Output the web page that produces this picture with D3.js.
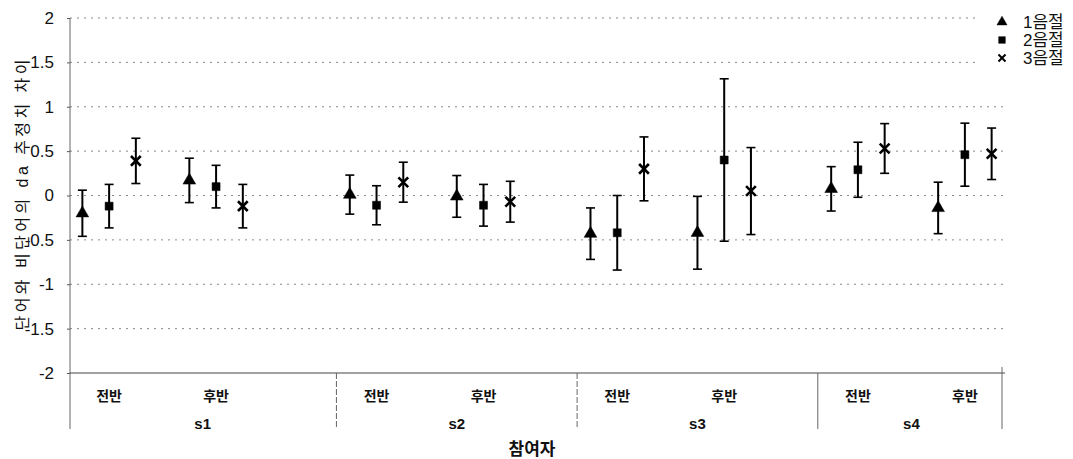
<!DOCTYPE html>
<html>
<head>
<meta charset="utf-8">
<script src="https://cdn.jsdelivr.net/npm/d3@7"></script>
<style>
  body { margin: 0; background: #fff; }
  svg { display: block; font-family: "Liberation Sans", Arial, "Noto Sans CJK KR", sans-serif; }
</style>
</head>
<body>
<div id="chart"></div>
<script>
// categories
const participants = ['s1', 's2', 's3', 's4'];
const halves = ['전반', '후반'];
const seriesNames = ['1음절', '2음절', '3음절'];
const yTicks = [-2, -1.5, -1, -0.5, 0, 0.5, 1, 1.5, 2];

// values in order s1전반, s1후반, s2전반, s2후반, s3전반, s3후반, s4전반, s4후반
const mean1 = [-0.2, 0.17, 0.01, -0.01, -0.43, -0.42, 0.075, -0.14];
const err1  = [0.26, 0.25, 0.22, 0.235, 0.29, 0.41, 0.25, 0.29];
const mean2 = [-0.12, 0.1, -0.11, -0.11, -0.42, 0.4, 0.29, 0.46];
const err2  = [0.245, 0.24, 0.22, 0.235, 0.42, 0.915, 0.31, 0.355];
const mean3 = [0.39, -0.12, 0.15, -0.07, 0.3, 0.05, 0.53, 0.47];
const err3  = [0.255, 0.245, 0.225, 0.23, 0.36, 0.49, 0.28, 0.29];

const means = [mean1, mean2, mean3];
const errs = [err1, err2, err3];

// empty category slots after each participant (layout of the source axis)
const tailGaps = [3, 2, 2, 0];

const width = 1073, height = 459;
const plot = { left: 69, right: 1005, top: 18, bottom: 373 };

const svg = d3.select('#chart').append('svg')
    .attr('width', width)
    .attr('height', height);

// slot keys for the band scale
const slots = [];
participants.forEach((p, pi) => {
    halves.forEach((h, hi) => {
        seriesNames.forEach(s => slots.push(`${p}|${h}|${s}`));
        if (hi < halves.length - 1) slots.push(`${p}|gap${hi}`);
    });
    for (let g = 0; g < tailGaps[pi]; g++) slots.push(`${p}|tail${g}`);
});

const x = d3.scaleBand().domain(slots).range([plot.left, plot.right]);
const bw = x.bandwidth();
const y = d3.scaleLinear().domain([-2, 2]).range([plot.bottom, plot.top]);

// grid
svg.append('g')
    .selectAll('line')
    .data(yTicks.filter(d => d > -2))
    .join('line')
    .attr('x1', plot.left + 1).attr('x2', plot.right)
    .attr('y1', d => y(d)).attr('y2', d => y(d))
    .attr('stroke', '#888')
    .attr('stroke-width', 1)
    .attr('stroke-dasharray', '2,5');

// y axis
const yAxis = svg.append('g')
    .attr('transform', `translate(${plot.left + 1},0)`)
    .call(d3.axisLeft(y).tickValues(yTicks).tickSize(3).tickPadding(13)
        .tickFormat(d => String(d)));
yAxis.select('.domain').remove();
yAxis.selectAll('.tick line').attr('stroke', '#555');
yAxis.selectAll('.tick text')
    .attr('font-size', 17)
    .attr('fill', '#111');

// axis frame lines
svg.append('line')
    .attr('x1', plot.left + 1).attr('x2', plot.left + 1)
    .attr('y1', plot.top).attr('y2', 429)
    .attr('stroke', '#666');
svg.append('line')
    .attr('x1', plot.left + 1).attr('x2', plot.right)
    .attr('y1', plot.bottom).attr('y2', plot.bottom)
    .attr('stroke', '#444');

// participant separators and labels
participants.forEach((p, pi) => {
    const keys = slots.filter(k => k.startsWith(p + '|'));
    const x0 = x(keys[0]);
    const x1 = x(keys[keys.length - 1]) + bw;
    if (pi > 0) {
        svg.append('line')
            .attr('x1', x0).attr('x2', x0)
            .attr('y1', plot.bottom).attr('y2', 429)
            .attr('stroke', '#666')
            .attr('stroke-dasharray', pi === 3 ? null : '6,2');
    }
    if (pi === participants.length - 1) {
        svg.append('line')
            .attr('x1', x1 - 3).attr('x2', x1 - 3)
            .attr('y1', plot.bottom - 6).attr('y2', 429)
            .attr('stroke', '#666');
    }
    svg.append('text')
        .attr('x', (x0 + x1) / 2)
        .attr('y', 429)
        .attr('text-anchor', 'middle')
        .attr('font-size', 15)
        .attr('font-weight', 'bold')
        .attr('fill', '#111')
        .text(p);
    halves.forEach(h => {
        const cx = x(`${p}|${h}|${seriesNames[1]}`) + bw / 2;
        svg.append('text')
            .attr('x', cx)
            .attr('y', 401)
            .attr('text-anchor', 'middle')
            .attr('font-size', 14)
            .attr('font-weight', 'bold')
            .attr('fill', '#111')
            .text(h);
    });
});

// axis titles
svg.append('text')
    .attr('x', 532)
    .attr('y', 455)
    .attr('text-anchor', 'middle')
    .attr('font-size', 17)
    .attr('font-weight', 'bold')
    .attr('fill', '#111')
    .text('참여자');

svg.append('text')
    .attr('transform', 'translate(28,195) rotate(-90)')
    .attr('text-anchor', 'middle')
    .attr('font-size', 16)
    .attr('fill', '#111')
    .attr('textLength', 271)
    .attr('lengthAdjust', 'spacing')
    .text('단어와 비단어의 da 추정치 차이');

// points
const points = [];
participants.forEach((p, pi) => {
    halves.forEach((h, hi) => {
        seriesNames.forEach((s, si) => {
            const i = pi * halves.length + hi;
            points.push({ key: `${p}|${h}|${s}`, series: si, mean: means[si][i], err: errs[si][i] });
        });
    });
});

const xShape = d3.symbolTimes || d3.symbolX;
const shapes = [d3.symbolTriangle, d3.symbolSquare, xShape];
const sizes = [70, 64, 64];

const pt = svg.append('g').selectAll('g')
    .data(points)
    .join('g')
    .attr('transform', d => `translate(${x(d.key) + bw / 2},0)`);

pt.append('line')
    .attr('y1', d => y(d.mean + d.err))
    .attr('y2', d => y(d.mean - d.err))
    .attr('stroke', '#000')
    .attr('stroke-width', 2);

pt.selectAll('.cap')
    .data(d => [d.mean + d.err, d.mean - d.err])
    .join('line')
    .attr('class', 'cap')
    .attr('x1', -4.5).attr('x2', 4.5)
    .attr('y1', v => y(v)).attr('y2', v => y(v))
    .attr('stroke', '#000')
    .attr('stroke-width', 1.6);

pt.append('path')
    .attr('transform', d => `translate(0,${y(d.mean)})`)
    .attr('d', d => d3.symbol(shapes[d.series], sizes[d.series])())
    .attr('fill', d => d.series === 2 ? 'none' : '#000')
    .attr('stroke', '#000')
    .attr('stroke-width', d => d.series === 2 ? 2.6 : 0.5);

// legend
const legend = svg.append('g');
legend.append('rect')
    .attr('x', 980).attr('y', 4)
    .attr('width', 93).attr('height', 68)
    .attr('fill', '#fff');
seriesNames.forEach((s, si) => {
    const ly = 22 + si * 18;
    legend.append('path')
        .attr('transform', `translate(1002,${ly})`)
        .attr('d', d3.symbol(shapes[si], si === 2 ? 34 : 44)())
        .attr('fill', si === 2 ? 'none' : '#000')
        .attr('stroke', '#000')
        .attr('stroke-width', si === 2 ? 2 : 0.5);
    legend.append('text')
        .attr('x', 1023)
        .attr('y', ly + 6)
        .attr('font-size', 17)
        .attr('fill', '#111')
        .text(s);
});
</script>
</body>
</html>
